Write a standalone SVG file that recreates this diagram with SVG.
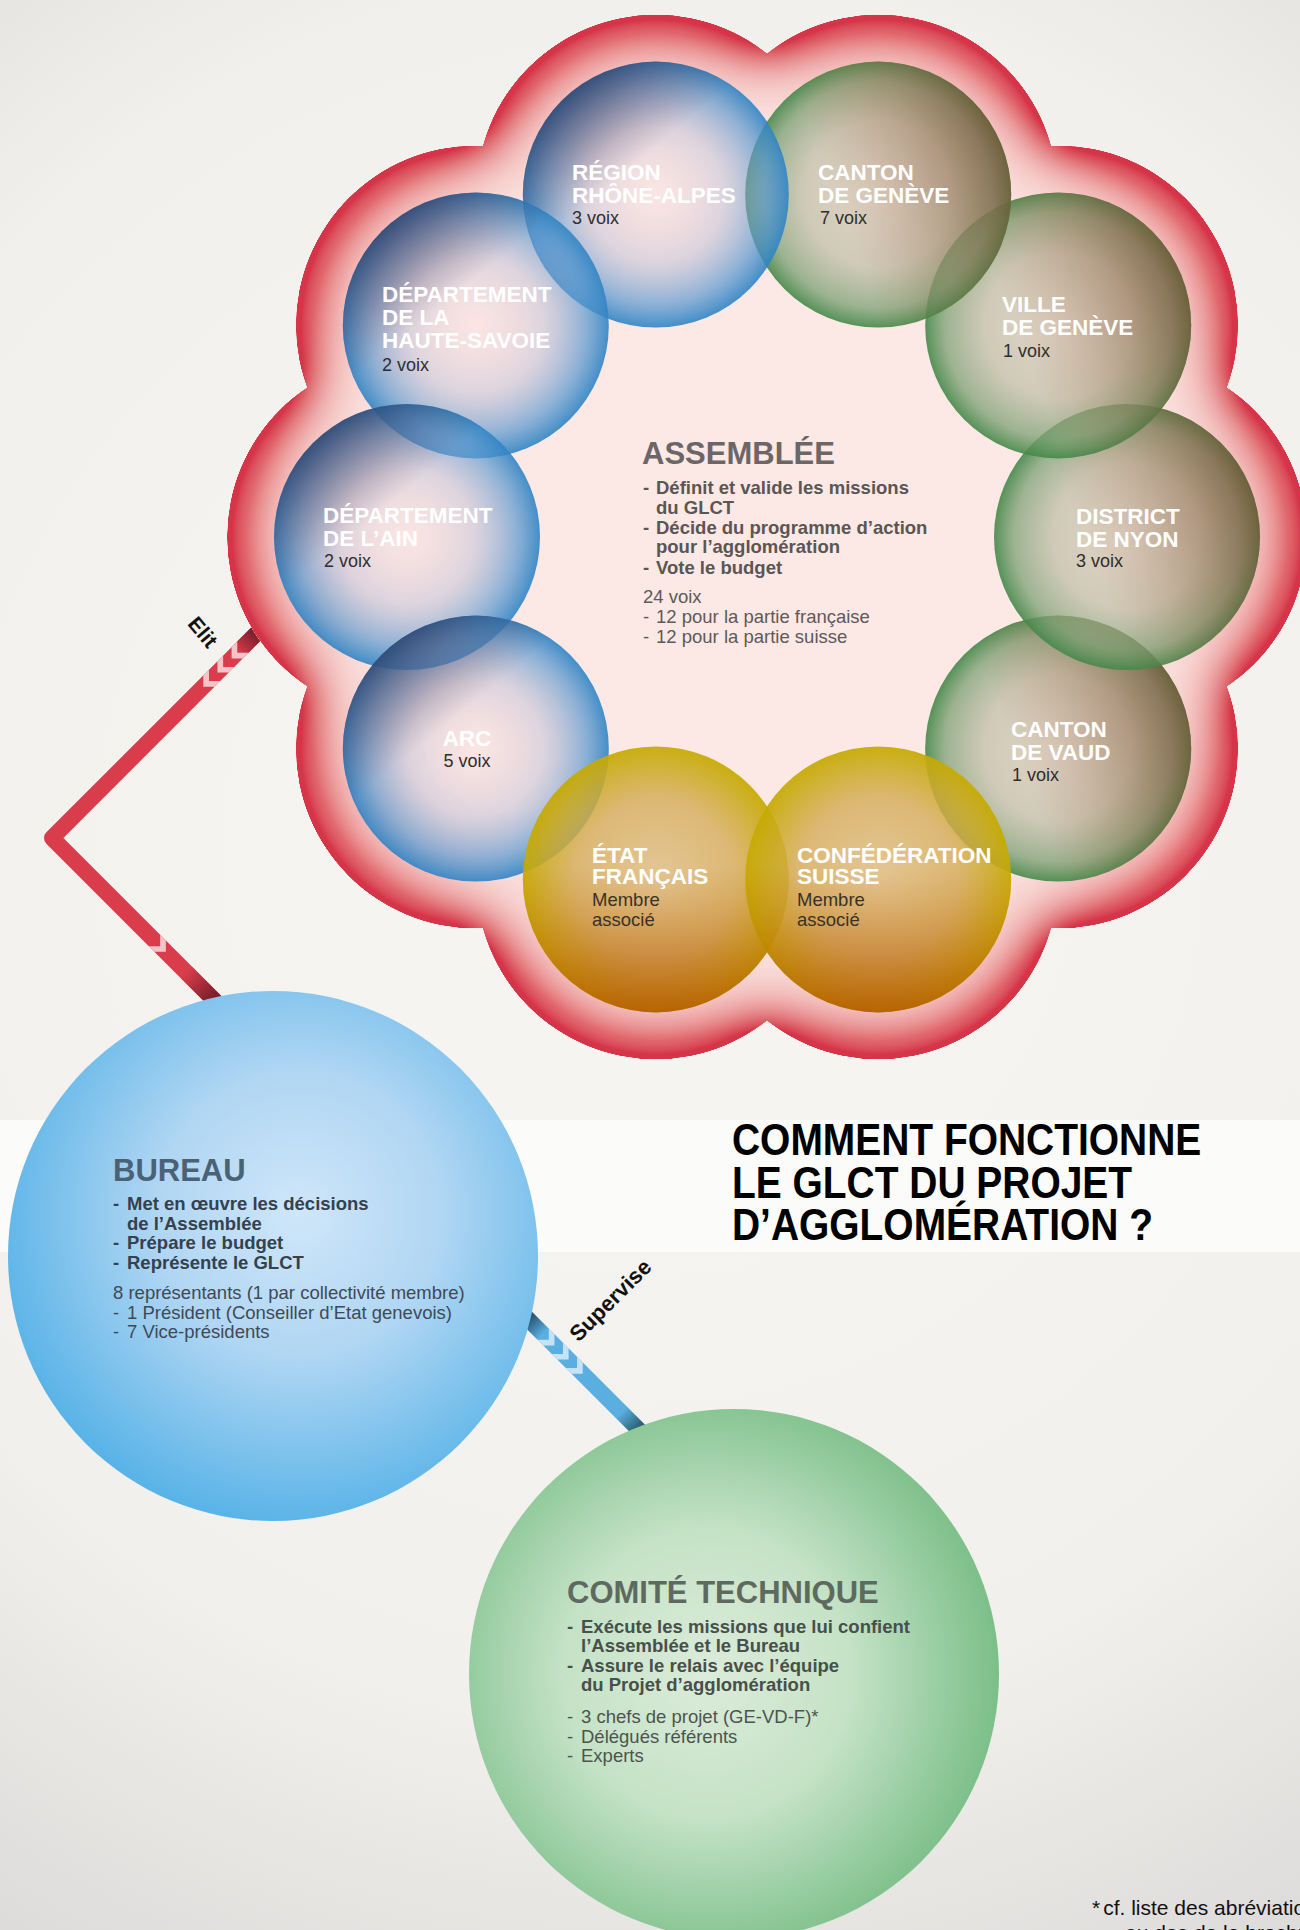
<svg xmlns="http://www.w3.org/2000/svg" xmlns:xlink="http://www.w3.org/1999/xlink" width="1300" height="1930" viewBox="0 0 1300 1930">
<style>
text{font-family:"Liberation Sans",Arial,Helvetica,sans-serif}
.nm{font-weight:bold;font-size:22.5px;fill:#ffffff}
.vx{font-size:18px;fill:#2e2e2e}
.ma{font-size:18.5px;fill:#3a3226}
.ah{font-weight:bold;font-size:31px;fill:#6c6766}
.ab{font-weight:bold;font-size:18.5px;fill:#5a5654}
.ar{font-size:18.5px;fill:#5e5a58}
.bh{font-weight:bold;font-size:31px;fill:#4a6276}
.bb{font-weight:bold;font-size:18.5px;fill:#34414e}
.br{font-size:18.5px;fill:#3e4a56}
.ch{font-weight:bold;font-size:31px;fill:#5e6a5f}
.cb{font-weight:bold;font-size:18.5px;fill:#47504a}
.cr{font-size:18.5px;fill:#4c544e}
.lbl{font-weight:bold;font-size:21px;fill:#111111}
.ttl{font-weight:bold;font-size:44px;fill:#000000}
.fn{font-size:21px;fill:#111111}
.lobe{fill:#fce8e5}
.blue1{fill:url(#bR)}
.blue2{fill:url(#bS)}
.green1{fill:url(#gR)}
.green2{fill:url(#gS)}
.yel1{fill:url(#yR)}
.yel2{fill:url(#yS)}
.chevR{fill:#f3c5c9}
.chevB{fill:#c6e3f5}
</style>
<defs>
<radialGradient id="bg" cx="650" cy="850" r="1250" gradientUnits="userSpaceOnUse">
<stop offset="0" stop-color="#f7f6f3"/>
<stop offset="0.7" stop-color="#f1f0ed"/>
<stop offset="1" stop-color="#dddcda"/>
</radialGradient>
<filter id="rim" x="-12%" y="-12%" width="124%" height="124%">
<feGaussianBlur in="SourceAlpha" stdDeviation="55" result="b2"/>
<feComposite in="SourceAlpha" in2="b2" operator="arithmetic" k1="0" k2="2.4" k3="-2.4" k4="0" result="e2"/>
<feFlood flood-color="#ec8a8a" result="pk"/>
<feComposite in="pk" in2="e2" operator="in" result="pinkE"/>
<feGaussianBlur in="SourceAlpha" stdDeviation="24" result="b1"/>
<feComposite in="SourceAlpha" in2="b1" operator="arithmetic" k1="0" k2="2.3" k3="-2.3" k4="0" result="e1"/>
<feFlood flood-color="#d6364a" result="red"/>
<feComposite in="red" in2="e1" operator="in" result="redE"/>
<feMerge><feMergeNode in="SourceGraphic"/><feMergeNode in="pinkE"/><feMergeNode in="redE"/></feMerge>
</filter>
<radialGradient id="bR" cx="0.5" cy="0.5" r="0.5">
<stop offset="0" stop-color="#e0c4cc" stop-opacity="0.08"/>
<stop offset="0.5" stop-color="#a4aed0" stop-opacity="0.34"/>
<stop offset="0.82" stop-color="#5a98cf" stop-opacity="0.68"/>
<stop offset="1" stop-color="#2f84c4" stop-opacity="0.9"/>
</radialGradient>
<linearGradient id="bS" x1="0.1" y1="0.05" x2="0.75" y2="0.85">
<stop offset="0" stop-color="#2c1e3c" stop-opacity="0.7"/>
<stop offset="0.45" stop-color="#3a2c4c" stop-opacity="0"/>
</linearGradient>
<radialGradient id="gR" cx="0.5" cy="0.5" r="0.5">
<stop offset="0" stop-color="#cdc6ae" stop-opacity="0.55"/>
<stop offset="0.55" stop-color="#b2b698" stop-opacity="0.6"/>
<stop offset="0.85" stop-color="#7ea276" stop-opacity="0.76"/>
<stop offset="1" stop-color="#438848" stop-opacity="0.9"/>
</radialGradient>
<linearGradient id="gS" x1="1" y1="0.3" x2="0.35" y2="0.55">
<stop offset="0" stop-color="#7a4830" stop-opacity="0.68"/>
<stop offset="1" stop-color="#9a6a4a" stop-opacity="0"/>
</linearGradient>
<radialGradient id="yR" cx="0.5" cy="0.5" r="0.5">
<stop offset="0" stop-color="#dab874" stop-opacity="0.7"/>
<stop offset="0.6" stop-color="#d4ac58" stop-opacity="0.8"/>
<stop offset="1" stop-color="#c6aa00" stop-opacity="0.93"/>
</radialGradient>
<linearGradient id="yS" x1="0.5" y1="1" x2="0.5" y2="0.45">
<stop offset="0" stop-color="#b04800" stop-opacity="0.72"/>
<stop offset="1" stop-color="#c07000" stop-opacity="0"/>
</linearGradient>
<radialGradient id="buG" cx="0.55" cy="0.42" r="0.6">
<stop offset="0" stop-color="#cfe6f9"/>
<stop offset="0.45" stop-color="#b0d6f3"/>
<stop offset="1" stop-color="#56b2e7"/>
</radialGradient>
<radialGradient id="coG" cx="0.45" cy="0.5" r="0.55">
<stop offset="0" stop-color="#dcecda"/>
<stop offset="0.5" stop-color="#c4e2c6"/>
<stop offset="1" stop-color="#7cbf89"/>
</radialGradient>
<linearGradient id="supG" x1="0" y1="0" x2="152" y2="0" gradientUnits="userSpaceOnUse">
<stop offset="0" stop-color="#2b5878"/>
<stop offset="0.13" stop-color="#5aaee0"/>
<stop offset="0.86" stop-color="#5aaee0"/>
<stop offset="1" stop-color="#2f6478"/>
</linearGradient>
<linearGradient id="elTop" x1="262" y1="0" x2="288" y2="0" gradientUnits="userSpaceOnUse">
<stop offset="0" stop-color="#d93d4b"/>
<stop offset="1" stop-color="#7d1f2c"/>
</linearGradient>
<linearGradient id="elBot" x1="190" y1="0" x2="226" y2="0" gradientUnits="userSpaceOnUse">
<stop offset="0" stop-color="#d93d4b"/>
<stop offset="1" stop-color="#7d1f2c"/>
</linearGradient>
<path id="chevF" d="M0,-8 L8,-8 L16,0 L8,8 L0,8 L8,0 Z"/>
<path id="chevBk" d="M8,-8 L16,-8 L8,0 L16,8 L8,8 L0,0 Z"/>
</defs>

<rect x="0" y="0" width="1300" height="1930" fill="url(#bg)"/>
<rect x="0" y="1120" width="1300" height="132" fill="#fbfbf9"/>

<g id="connectors">
<g id="edge-elit">
<path d="M262,628 L52,838 L222,1008" fill="none" stroke="#d93d4b" stroke-width="16" stroke-linejoin="round"/>
<g transform="translate(52,838) rotate(-45)">
<line x1="262" y1="0" x2="300" y2="0" stroke="url(#elTop)" stroke-width="16"/>
<use xlink:href="#chevBk" x="214" class="chevR"/>
<use xlink:href="#chevBk" x="234" class="chevR"/>
<use xlink:href="#chevBk" x="254" class="chevR"/>
</g>
<g transform="translate(52,838) rotate(45)">
<line x1="190" y1="0" x2="240" y2="0" stroke="url(#elBot)" stroke-width="16"/>
<use xlink:href="#chevF" x="145" class="chevR"/>
</g>
<text class="lbl" text-anchor="middle" transform="translate(203,632) rotate(50)" x="0" y="7.5">Elit</text>
</g>
<g id="edge-supervise">
<g transform="translate(529,1320) rotate(45)">
<line x1="-20" y1="0" x2="170" y2="0" stroke="url(#supG)" stroke-width="16"/>
<use xlink:href="#chevF" x="20" class="chevB"/>
<use xlink:href="#chevF" x="40" class="chevB"/>
<use xlink:href="#chevF" x="60" class="chevB"/>
</g>
<text class="lbl" style="font-size:22px" text-anchor="middle" transform="translate(610,1300) rotate(-45)" x="0" y="8">Supervise</text>
</g>
</g>

<g id="assemblee">
<g filter="url(#rim)">
<circle class="lobe" cx="767" cy="537" r="362"/>
<circle class="lobe" cx="1127" cy="537" r="180"/>
<circle class="lobe" cx="1058.2" cy="748.6" r="180"/>
<circle class="lobe" cx="878.2" cy="879.4" r="180"/>
<circle class="lobe" cx="655.8" cy="879.4" r="180"/>
<circle class="lobe" cx="475.8" cy="748.6" r="180"/>
<circle class="lobe" cx="407" cy="537" r="180"/>
<circle class="lobe" cx="475.8" cy="325.4" r="180"/>
<circle class="lobe" cx="655.8" cy="194.6" r="180"/>
<circle class="lobe" cx="878.2" cy="194.6" r="180"/>
<circle class="lobe" cx="1058.2" cy="325.4" r="180"/>
</g>
<text class="ah" x="642" y="464">ASSEMBLÉE</text>
<text class="ab"><tspan x="643" y="494">-</tspan><tspan x="656">Définit et valide les missions</tspan></text>
<text class="ab" x="656" y="514">du GLCT</text>
<text class="ab"><tspan x="643" y="534">-</tspan><tspan x="656">Décide du programme d’action</tspan></text>
<text class="ab" x="656" y="553">pour l’agglomération</text>
<text class="ab"><tspan x="643" y="574">-</tspan><tspan x="656">Vote le budget</tspan></text>
<text class="ar" x="643" y="603">24 voix</text>
<text class="ar"><tspan x="643" y="623">-</tspan><tspan x="656">12 pour la partie française</tspan></text>
<text class="ar"><tspan x="643" y="643">-</tspan><tspan x="656">12 pour la partie suisse</tspan></text>
</g>

<g id="vaud">
<circle class="green1" cx="1058.2" cy="748.6" r="133"/>
<circle class="green2" cx="1058.2" cy="748.6" r="133"/>
<text class="nm" x="1011" y="737">CANTON</text>
<text class="nm" x="1011" y="760">DE VAUD</text>
<text class="vx" x="1012" y="781">1 voix</text>
</g>
<g id="nyon">
<circle class="green1" cx="1127" cy="537" r="133"/>
<circle class="green2" cx="1127" cy="537" r="133"/>
<text class="nm" x="1076" y="524">DISTRICT</text>
<text class="nm" x="1076" y="547">DE NYON</text>
<text class="vx" x="1076" y="567">3 voix</text>
</g>
<g id="ville-geneve">
<circle class="green1" cx="1058.2" cy="325.4" r="133"/>
<circle class="green2" cx="1058.2" cy="325.4" r="133"/>
<text class="nm" x="1002" y="312">VILLE</text>
<text class="nm" x="1002" y="335">DE GENÈVE</text>
<text class="vx" x="1003" y="357">1 voix</text>
</g>
<g id="canton-geneve">
<circle class="green1" cx="878.2" cy="194.6" r="133"/>
<circle class="green2" cx="878.2" cy="194.6" r="133"/>
<text class="nm" x="818" y="180">CANTON</text>
<text class="nm" x="818" y="203">DE GENÈVE</text>
<text class="vx" x="820" y="224">7 voix</text>
</g>
<g id="rhone-alpes">
<circle class="blue1" cx="655.8" cy="194.6" r="133"/>
<circle class="blue2" cx="655.8" cy="194.6" r="133"/>
<text class="nm" x="572" y="180">RÉGION</text>
<text class="nm" x="572" y="203">RHÔNE-ALPES</text>
<text class="vx" x="572" y="224">3 voix</text>
</g>
<g id="haute-savoie">
<circle class="blue1" cx="475.8" cy="325.4" r="133"/>
<circle class="blue2" cx="475.8" cy="325.4" r="133"/>
<text class="nm" x="382" y="302">DÉPARTEMENT</text>
<text class="nm" x="382" y="325">DE LA</text>
<text class="nm" x="382" y="348">HAUTE-SAVOIE</text>
<text class="vx" x="382" y="371">2 voix</text>
</g>
<g id="ain">
<circle class="blue1" cx="407" cy="537" r="133"/>
<circle class="blue2" cx="407" cy="537" r="133"/>
<text class="nm" x="323" y="523">DÉPARTEMENT</text>
<text class="nm" x="323" y="546">DE L’AIN</text>
<text class="vx" x="324" y="567">2 voix</text>
</g>
<g id="arc">
<circle class="blue1" cx="475.8" cy="748.6" r="133"/>
<circle class="blue2" cx="475.8" cy="748.6" r="133"/>
<text class="nm" x="467" y="746" text-anchor="middle">ARC</text>
<text class="vx" x="467" y="767" text-anchor="middle">5 voix</text>
</g>
<g id="etat-francais">
<circle class="yel1" cx="655.8" cy="879.4" r="133"/>
<circle class="yel2" cx="655.8" cy="879.4" r="133"/>
<text class="nm" x="592" y="863">ÉTAT</text>
<text class="nm" x="592" y="884">FRANÇAIS</text>
<text class="ma" x="592" y="906">Membre</text>
<text class="ma" x="592" y="926">associé</text>
</g>
<g id="confederation">
<circle class="yel1" cx="878.2" cy="879.4" r="133"/>
<circle class="yel2" cx="878.2" cy="879.4" r="133"/>
<text class="nm" x="797" y="863">CONFÉDÉRATION</text>
<text class="nm" x="797" y="884">SUISSE</text>
<text class="ma" x="797" y="906">Membre</text>
<text class="ma" x="797" y="926">associé</text>
</g>

<g id="bureau">
<circle cx="273" cy="1256" r="265" fill="url(#buG)"/>
<text class="bh" x="113" y="1181">BUREAU</text>
<text class="bb"><tspan x="113" y="1210">-</tspan><tspan x="127">Met en œuvre les décisions</tspan></text>
<text class="bb" x="127" y="1230">de l’Assemblée</text>
<text class="bb"><tspan x="113" y="1249">-</tspan><tspan x="127">Prépare le budget</tspan></text>
<text class="bb"><tspan x="113" y="1269">-</tspan><tspan x="127">Représente le GLCT</tspan></text>
<text class="br" x="113" y="1299">8 représentants (1 par collectivité membre)</text>
<text class="br"><tspan x="113" y="1319">-</tspan><tspan x="127">1 Président (Conseiller d’Etat genevois)</tspan></text>
<text class="br"><tspan x="113" y="1338">-</tspan><tspan x="127">7 Vice-présidents</tspan></text>
</g>

<g id="comite">
<circle cx="734" cy="1674" r="265" fill="url(#coG)"/>
<text class="ch" x="567" y="1603">COMITÉ TECHNIQUE</text>
<text class="cb"><tspan x="567" y="1633">-</tspan><tspan x="581">Exécute les missions que lui confient</tspan></text>
<text class="cb" x="581" y="1652">l’Assemblée et le Bureau</text>
<text class="cb"><tspan x="567" y="1672">-</tspan><tspan x="581">Assure le relais avec l’équipe</tspan></text>
<text class="cb" x="581" y="1691">du Projet d’agglomération</text>
<text class="cr"><tspan x="567" y="1723">-</tspan><tspan x="581">3 chefs de projet (GE-VD-F)*</tspan></text>
<text class="cr"><tspan x="567" y="1743">-</tspan><tspan x="581">Délégués référents</tspan></text>
<text class="cr"><tspan x="567" y="1762">-</tspan><tspan x="581">Experts</tspan></text>
</g>

<g id="title" transform="translate(732,0) scale(0.885,1)">
<text class="ttl" x="0" y="1155">COMMENT FONCTIONNE</text>
<text class="ttl" x="0" y="1198">LE GLCT DU PROJET</text>
<text class="ttl" x="0" y="1240">D’AGGLOMÉRATION ?</text>
</g>

<g id="footnote">
<text class="fn" x="1092" y="1915">*<tspan dx="3">cf. liste des abréviations</tspan></text>
<text class="fn" x="1125" y="1940">au dos de la brochure</text>
</g>
</svg>
